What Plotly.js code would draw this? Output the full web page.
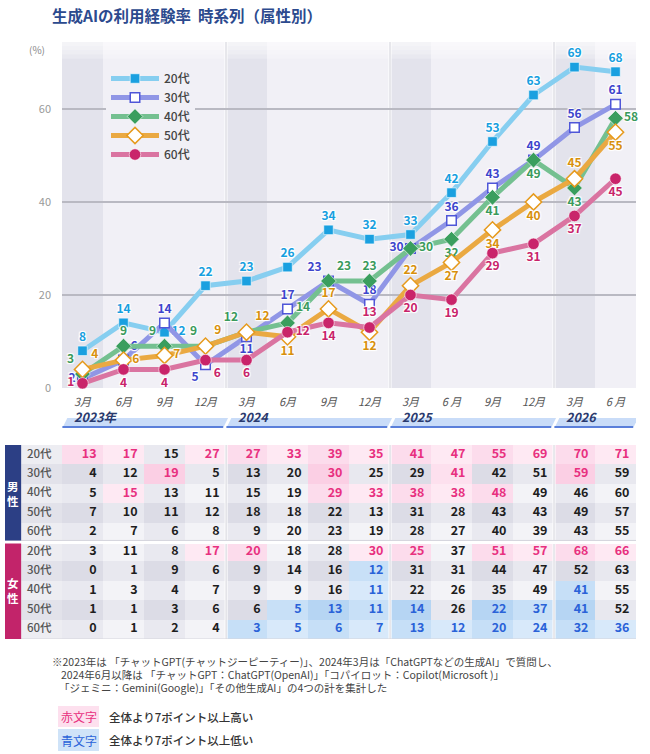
<!DOCTYPE html>
<html><head><meta charset="utf-8">
<script src="https://cdn.plot.ly/plotly-3.0.1.min.js"></script>
<style>body{margin:0;background:#fff}</style>
</head><body><div id="chart" style="width:650px;height:754px"></div>
<script>
// ---------- data ----------
const periods = ['3月','6月','9月','12月','3月','6月','9月','12月','3月','6 月','9月','12月','3月','6 月'];
const years = ['2023年','2024','2025','2026'];
const ages = ['20代','30代','40代','50代','60代'];
const seriesNames = ['20代','30代','40代','50代','60代'];

const v20 = [8,14,12,22,23,26,34,32,33,42,53,63,69,68];
const v30 = [2,6,14,5,11,17,23,18,30,36,43,49,56,61];
const v40 = [3,9,9,9,12,14,23,23,30,32,41,49,43,58];
const v50 = [4,6,7,9,12,11,17,12,22,27,34,40,45,55];
const v60 = [1,4,4,6,6,12,14,13,20,19,29,31,37,45];

const male20 = [13,17,15,27,27,33,39,35,41,47,55,69,70,71];
const male30 = [4,12,19,5,13,20,30,25,29,41,42,51,59,59];
const male40 = [5,15,13,11,15,19,29,33,38,38,48,49,46,60];
const male50 = [7,10,11,12,18,18,22,13,31,28,43,43,49,57];
const male60 = [2,7,6,8,9,20,23,19,28,27,40,39,43,55];
const female20 = [3,11,8,17,20,18,28,30,25,37,51,57,68,66];
const female30 = [0,1,9,6,9,14,16,12,31,31,44,47,52,63];
const female40 = [1,3,4,7,9,9,16,11,22,26,35,49,41,55];
const female50 = [1,1,3,6,6,5,13,11,14,26,22,37,41,52];
const female60 = [0,1,2,4,3,5,6,7,13,12,20,24,32,36];

// H = 7pt以上高い, L = 7pt以上低い
const maleFlag20 = 'HH.HHHHHHHHHHH';
const maleFlag30 = '..H...H..H..H.';
const maleFlag40 = '.H....HHHHH...';
const maleFlag50 = '..............';
const maleFlag60 = '..............';
const femaleFlag20 = '...HH..HH.HHHH';
const femaleFlag30 = '.......L......';
const femaleFlag40 = '.......L....L.';
const femaleFlag50 = '.....LLLL.LLL.';
const femaleFlag60 = '....LLLLLLLLLL';

// ---------- styles ----------
const lineColors = ['#86cef0','#9096e6','#74c090','#eaa942','#da74a1'];
const labelColors = ['#179fe0','#3d45cc','#3a9a5c','#d8900c','#c8236a'];
const markers = [
  {symbol:'square', size:9.5, color:'#1aa0e0', line:{color:'#ffffff', width:0.6}},
  {symbol:'square', size:9.5, color:'#ffffff', line:{color:'#4f56d8', width:1.5}},
  {symbol:'diamond', size:12, color:'#3a9e5e', line:{color:'#ffffff', width:0.6}},
  {symbol:'diamond', size:12.5, color:'#ffffff', line:{color:'#e69a1c', width:1.5}},
  {symbol:'circle', size:11.5, color:'#c9246a', line:{color:'#ffffff', width:0.6}}
];
const T='top center', B='bottom center', L='middle left', R='middle right', TL='top left', TR='top right', BL='bottom left', BR='bottom right';
const pos20 = [T,T,R,T,T,T,T,T,T,T,T,T,T,T];
const pos30 = [L,TR,T,BL,B,T,TL,T,L,T,T,T,T,T];
const pos40 = [TL,T,TL,TL,TL,TR,TR,T,R,B,B,B,B,R];
const pos50 = [TR,R,R,TR,TR,B,T,B,T,B,B,B,T,B];
const pos60 = [L,B,B,BR,B,R,B,T,B,B,B,B,B,B];

const FONT = "'Noto Sans CJK JP','Noto Sans',sans-serif";
const W = 650, H = 754;
const px = x => x / W;
const py = y => 1 - y / H;
const YMAX = 74.4;
const xIdx = periods.map((_, i) => i);

// ---------- chart traces ----------
const allVals = [v20, v30, v40, v50, v60];
const allPos = [pos20, pos30, pos40, pos50, pos60];
const halo = '1px 1px 1px #fff, -1px -1px 1px #fff, 1px -1px 1px #fff, -1px 1px 1px #fff';
const traces = allVals.map((vals, k) => ({
  type:'scatter', mode:'lines+markers+text', name:seriesNames[k],
  x:xIdx, y:vals, text:vals.map(String), textposition:allPos[k],
  textfont:{family:FONT, size:12, weight:'bold', color:labelColors[k], shadow:halo},
  line:{color:lineColors[k], width:5},
  marker:markers[k], cliponaxis:false, hoverinfo:'skip',
  xaxis:'x', yaxis:'y'
}));

// ---------- table ----------
const tableRows = [male20, male30, male40, male50, male60, female20, female30, female40, female50, female60];
const tableFlags = [maleFlag20, maleFlag30, maleFlag40, maleFlag50, maleFlag60,
                    femaleFlag20, femaleFlag30, femaleFlag40, femaleFlag50, femaleFlag60];
const cellColors = ['#e9e9f0','#dcdce6','#f3f3f7','#e8e8ef',
                    '#fcdcec','#fbcfe4','#fee9f3','#fde0ee',
                    '#c6dff7','#b6d5f3','#d8e9fa','#c8e0f7',
                    '#ededf2','#e2e2ea'];
const nC = cellColors.length;
const colorscale = [];
cellColors.forEach((c, i) => { colorscale.push([i / nC, c]); colorscale.push([(i + 1) / nC, c]); });

const heatX = [-1].concat(xIdx);
const heatY = tableRows.map((_, r) => r);
const z = tableRows.map((row, r) => {
  const rp = (r % 5) % 2;
  return [12 + rp].concat(row.map((v, c) => {
    const f = tableFlags[r][c];
    const base = f === 'H' ? 4 : (f === 'L' ? 8 : 0);
    return base + (c % 2) * 2 + rp;
  }));
});
traces.push({
  type:'heatmap', x:heatX, y:heatY, z:z, zmin:-0.5, zmax:nC - 0.5,
  colorscale:colorscale, showscale:false, hoverinfo:'skip',
  xaxis:'x2', yaxis:'y2', showlegend:false
});

const tx = [], ty = [], tt = [], tc = [];
tableRows.forEach((row, r) => row.forEach((v, c) => {
  tx.push(c + 0.34); ty.push(r); tt.push(String(v));
  const f = tableFlags[r][c];
  tc.push(f === 'H' ? '#e8307f' : (f === 'L' ? '#2a62d8' : '#1e1e1e'));
}));
traces.push({
  type:'scatter', mode:'text', x:tx, y:ty, text:tt, textposition:'middle left',
  textfont:{family:FONT, size:12.5, weight:'bold', color:tc},
  xaxis:'x2', yaxis:'y2', showlegend:false, hoverinfo:'skip', cliponaxis:false
});
traces.push({
  type:'scatter', mode:'text', x:heatY.map(() => -1.36), y:heatY,
  text:heatY.map(r => ages[r % 5]), textposition:'middle right',
  textfont:{family:FONT, size:11.5, weight:500, color:'#555'},
  xaxis:'x2', yaxis:'y2', showlegend:false, hoverinfo:'skip', cliponaxis:false
});

// ---------- shapes ----------
const shapes = [];
[0, 4, 8, 12].forEach(b => shapes.push({type:'rect', xref:'x', yref:'y', x0:b - 0.5, x1:b + 0.5, y0:0, y1:YMAX,
  fillcolor:'#e3e3ec', line:{width:0}, layer:'below'}));
[1, 2, 3, 4].forEach(k => shapes.push({type:'rect', xref:'x', yref:'y', x0:-0.5, x1:13.5, y0:YMAX - k * 0.9, y1:YMAX,
  fillcolor:'rgba(255,255,255,0.22)', line:{width:0}, layer:'below'}));
[3.5, 7.5, 11.5].forEach(b => {
  shapes.push({type:'line', xref:'x', yref:'y', x0:b, x1:b, y0:0, y1:YMAX, line:{color:'#ffffff', width:3}, layer:'below'});
  shapes.push({type:'line', xref:'x', yref:'y', x0:b, x1:b, y0:0, y1:YMAX, line:{color:'#cfcfd8', width:1}, layer:'below'});
});
// year bands
const bandStarts = [-0.5, 3.5, 7.5, 11.5];
const bandEnds = [3.5, 7.5, 11.5, 13.5];
const sl = 0.12;
bandStarts.forEach((s, i) => {
  const e = bandEnds[i] - 0.07;
  const yb = py(428), yt = py(418);
  shapes.push({type:'path', xref:'x', yref:'paper',
    path:`M ${s + 0.01},${yb} L ${e},${yb} L ${e + sl},${yt} L ${s + 0.01 + sl},${yt} Z`,
    fillcolor:'#c9dcf8', line:{width:0}});
  shapes.push({type:'line', xref:'x', yref:'paper', x0:s + 0.01, x1:e, y0:py(427), y1:py(427),
    line:{color:'#5a7fda', width:2}});
});
// table separators and gender bars
[3.5, 7.5, 11.5].forEach(b => {
  shapes.push({type:'line', xref:'x2', yref:'y2', x0:b, x1:b, y0:-0.5, y1:9.5, line:{color:'#ffffff', width:3}, layer:'above'});
  shapes.push({type:'line', xref:'x2', yref:'y2', x0:b, x1:b, y0:-0.5, y1:9.5, line:{color:'#d2d2da', width:1}, layer:'above'});
});
shapes.push({type:'line', xref:'x2', yref:'y2', x0:-1.894, x1:13.5, y0:4.5, y1:4.5, line:{color:'#ffffff', width:4}, layer:'above'});
shapes.push({type:'line', xref:'x2', yref:'y2', x0:-1.894, x1:13.5, y0:4.42, y1:4.42, line:{color:'#d4d4dc', width:1}, layer:'above'});
shapes.push({type:'line', xref:'x2', yref:'y2', x0:-1.894, x1:13.5, y0:9.5, y1:9.5, line:{color:'#d4d4dc', width:1}, layer:'above'});
shapes.push({type:'rect', xref:'x2', yref:'y2', x0:-1.894, x1:-1.5, y0:-0.5, y1:4.42, fillcolor:'#2c3f85', line:{width:0}, layer:'above'});
shapes.push({type:'rect', xref:'x2', yref:'y2', x0:-1.894, x1:-1.5, y0:4.58, y1:9.5, fillcolor:'#c2246a', line:{width:0}, layer:'above'});
// bottom legend boxes
shapes.push({type:'rect', xref:'paper', yref:'paper', x0:px(58), x1:px(99), y0:py(727), y1:py(706), fillcolor:'#fde0ee', line:{width:0}});
shapes.push({type:'rect', xref:'paper', yref:'paper', x0:px(58), x1:px(99), y0:py(751), y1:py(729), fillcolor:'#cfe3f8', line:{width:0}});

// ---------- annotations ----------
const ann = [];
ann.push({xref:'paper', yref:'paper', x:px(50), y:py(15), xanchor:'left', yanchor:'middle', showarrow:false,
  text:'生成AIの利用経験率  時系列（属性別）', font:{family:FONT, size:15.5, weight:'bold', color:'#2c4a8e'}});
ann.push({xref:'paper', yref:'paper', x:px(37), y:py(50), xanchor:'center', yanchor:'middle', showarrow:false,
  text:'(%)', font:{family:FONT, size:10, color:'#888'}});
years.forEach((t, i) => ann.push({xref:'x', yref:'paper', x:bandStarts[i] + 0.25, y:py(417), xanchor:'left', yanchor:'middle',
  showarrow:false, text:t, font:{family:FONT, size:12.5, weight:'bold', style:'italic', color:'#2a3a6e'}}));
ann.push({xref:'x2', yref:'y2', x:-1.697, y:2, xanchor:'center', yanchor:'middle', showarrow:false, text:'男<br>性',
  font:{family:FONT, size:11.5, weight:'bold', color:'#ffffff'}});
ann.push({xref:'x2', yref:'y2', x:-1.697, y:7, xanchor:'center', yanchor:'middle', showarrow:false, text:'女<br>性',
  font:{family:FONT, size:11.5, weight:'bold', color:'#ffffff'}});
const notes = [
  ['※2023年は 「チャットGPT(チャットジーピーティー)」、2024年3月は「ChatGPTなどの生成AI」で質問し、', 50, 661],
  ['2024年6月以降は 「チャットGPT：ChatGPT(OpenAI)」「コパイロット：Copilot(Microsoft )」', 59, 674],
  ['「ジェミニ：Gemini(Google)」「その他生成AI」の4つの計を集計した', 57, 687]
];
notes.forEach(n => ann.push({xref:'paper', yref:'paper', x:px(n[1]), y:py(n[2]), xanchor:'left', yanchor:'middle',
  showarrow:false, text:n[0], font:{family:FONT, size:10.5, color:'#444'}}));
ann.push({xref:'paper', yref:'paper', x:px(78.5), y:py(716.5), xanchor:'center', yanchor:'middle', showarrow:false, text:'赤文字',
  font:{family:FONT, size:12, color:'#e8307f'}});
ann.push({xref:'paper', yref:'paper', x:px(78.5), y:py(740), xanchor:'center', yanchor:'middle', showarrow:false, text:'青文字',
  font:{family:FONT, size:12, color:'#2a62d8'}});
ann.push({xref:'paper', yref:'paper', x:px(107), y:py(716.5), xanchor:'left', yanchor:'middle', showarrow:false, text:'全体より7ポイント以上高い',
  font:{family:FONT, size:11.5, weight:500, color:'#333'}});
ann.push({xref:'paper', yref:'paper', x:px(107), y:py(740), xanchor:'left', yanchor:'middle', showarrow:false, text:'全体より7ポイント以上低い',
  font:{family:FONT, size:11.5, weight:500, color:'#333'}});

const layout = {
  width:W, height:H, autosize:false,
  margin:{l:0, r:0, t:0, b:0},
  paper_bgcolor:'#ffffff', plot_bgcolor:'#f1f0f6',
  font:{family:FONT},
  showlegend:true,
  legend:{x:px(106), y:py(64), xanchor:'left', yanchor:'top', bgcolor:'#f1f0f6',
    font:{family:FONT, size:12, weight:500, color:'#444'}, itemwidth:48, tracegroupgap:0},
  xaxis:{domain:[px(62), px(636)], range:[-0.5, 13.5], tickvals:xIdx, ticktext:periods,
    showgrid:false, zeroline:false, showline:false, ticks:'', ticklabelstandoff:6,
    tickfont:{family:FONT, size:11, style:'italic', color:'#555'}, fixedrange:true, anchor:'y'},
  yaxis:{domain:[py(388), py(42)], range:[0, YMAX], tickvals:[0, 20, 40, 60],
    showgrid:true, gridcolor:'#b9b9c2', gridwidth:1.5, zeroline:false, showline:false, ticks:'',
    ticklabelstandoff:10, tickfont:{family:FONT, size:11, color:'#999'}, fixedrange:true, anchor:'x'},
  xaxis2:{domain:[px(5), px(636)], range:[-1.894, 13.5], visible:false, anchor:'y2', fixedrange:true},
  yaxis2:{domain:[py(639), py(445)], range:[9.5, -0.5], visible:false, anchor:'x2', fixedrange:true},
  shapes:shapes, annotations:ann
};

Plotly.newPlot('chart', traces, layout, {staticPlot:true, displayModeBar:false});
</script>
</body></html>
